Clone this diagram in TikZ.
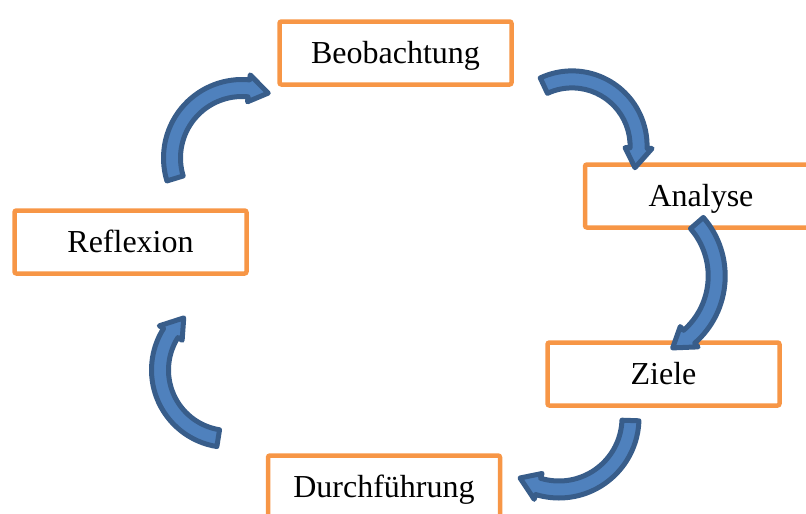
\documentclass[tikz,border=0pt]{standalone}
\usepackage{fontspec}
\setmainfont{Liberation Serif}
\usetikzlibrary{calc}

\definecolor{kastenrand}{HTML}{F79646}
\definecolor{pfeilfarbe}{HTML}{4F81BD}
\definecolor{pfeilrand}{HTML}{385D8A}

\tikzset{
  kasten/.style={draw=kastenrand, line width=4.5pt, rounded corners=2pt, fill=white,
    minimum width=232pt, minimum height=63pt, text height=21pt, text depth=0pt,
    font=\fontsize{32}{38}\selectfont},
  pfeil/.style={fill=pfeilfarbe, draw=pfeilrand, line width=5pt, line join=round}
}

% gebogener Blockpfeil: Mittelpunkt, Radius, Startwinkel, Endwinkel (im Uhrzeigersinn)
\newcommand{\bogenpfeil}[4]{%
  \pgfmathsetmacro{\kopf}{#4+20/#2*57.2958}
  \filldraw[pfeil, shift={(#1)}] (#3:{#2+8.5}) arc[start angle=#3, end angle=\kopf, radius=#2+8.5]
    -- (\kopf:{#2+13.5}) -- (#4:#2) -- (\kopf:{#2-13.5}) -- (\kopf:{#2-8.5})
    arc[start angle=\kopf, end angle=#3, radius=#2-8.5] -- cycle;
}

\begin{document}
\begin{tikzpicture}[x=1pt, y=1pt]
  \useasboundingbox (0,0) rectangle (806,-514);

  \node[kasten] (beob) at (395.5,-53) {Beobachtung};
  \node[kasten] (analyse) at (701,-196) {Analyse};
  \node[kasten] (ziele) at (663.5,-374) {Ziele};
  \node[kasten] (durch) at (384,-487) {Durchführung};
  \node[kasten] (reflexion) at (130.5,-242) {Reflexion};

  % Mittelpunkte der Boegen
  \coordinate (m1) at (242,-158);
  \coordinate (m2) at (572,-146);
  \coordinate (m3) at (636,-276);
  \coordinate (m4) at (559,-418);
  \coordinate (m5) at (229,-370);

  \bogenpfeil{m1}{70}{197}{68}
  \bogenpfeil{m2}{66.6}{115}{-19}
  \bogenpfeil{m3}{80.7}{41}{-63}
  \bogenpfeil{m4}{71.5}{-2}{-123}
  \bogenpfeil{m5}{69}{261}{131}
\end{tikzpicture}
\end{document}
